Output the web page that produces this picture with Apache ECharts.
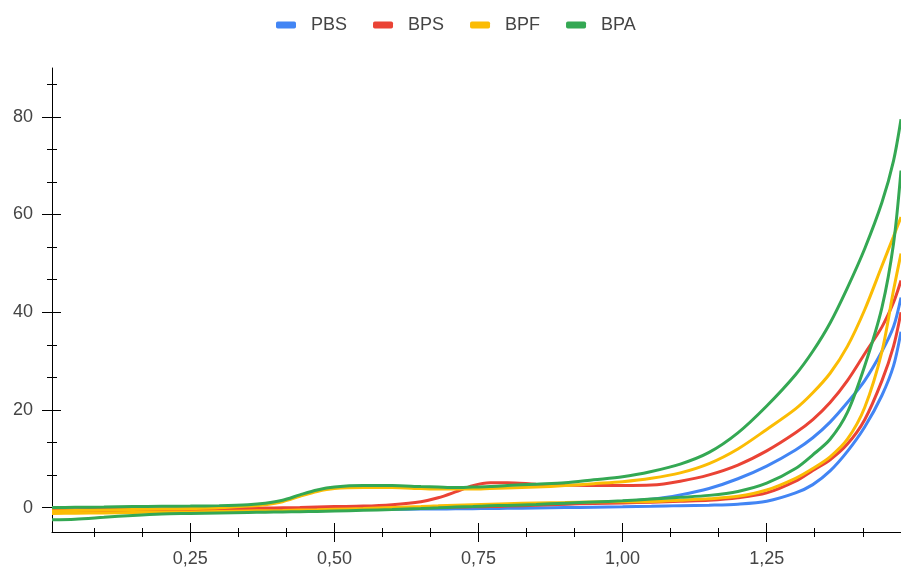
<!DOCTYPE html>
<html>
<head>
<meta charset="utf-8">
<script src="https://cdn.jsdelivr.net/npm/echarts@6/dist/echarts.min.js"></script>
<style>
html,body{margin:0;padding:0;background:#fff;}
#chart{width:901px;height:571px;}
</style>
</head>
<body>
<div id="chart"></div>
<script>
// Potential grid (x values)
const xValues = [0.01, 0.05, 0.1, 0.15, 0.2, 0.25, 0.3, 0.35, 0.38, 0.41, 0.44, 0.47, 0.5, 0.55, 0.6, 0.65, 0.68, 0.71, 0.74, 0.77, 0.8, 0.85, 0.9, 0.95, 1.0, 1.05, 1.1, 1.15, 1.2, 1.25, 1.3, 1.33, 1.36, 1.39, 1.42, 1.45, 1.47, 1.483];

// Series names
const seriesNames = ['PBS', 'BPS', 'BPF', 'BPA'];

// Upper (outer) branch and lower (inner) branch of each loop
const pbsUpper = [-0.6,-0.58,-0.55,-0.52,-0.5,-0.47,-0.44,-0.4,-0.38,-0.35,-0.33,-0.3,-0.27,-0.2,-0.1,0.0,0.05,0.12,0.2,0.28,0.38,0.55,0.75,1.0,1.3,1.7,2.6,3.9,5.9,8.5,11.8,14.3,17.5,21.5,26,32,37,43];
const pbsLower = [-0.9,-0.88,-0.85,-0.8,-0.75,-0.7,-0.65,-0.6,-0.57,-0.55,-0.52,-0.5,-0.45,-0.4,-0.35,-0.3,-0.28,-0.25,-0.22,-0.2,-0.15,-0.08,0.0,0.08,0.15,0.25,0.4,0.5,0.7,1.3,3.0,4.7,7.5,11.5,16.5,23,29,36];

const bpsUpper = [-0.45,-0.42,-0.4,-0.35,-0.3,-0.25,-0.2,-0.15,-0.1,-0.05,0.0,0.1,0.2,0.3,0.6,1.2,2.0,3.2,4.5,5.1,5.1,4.8,4.6,4.5,4.5,4.6,5.4,6.7,8.7,11.6,15.3,18.0,21.5,26,31.5,37,42,46.5];
const bpsLower = [-1.0,-0.95,-0.9,-0.85,-0.8,-0.75,-0.7,-0.6,-0.55,-0.5,-0.45,-0.4,-0.3,-0.2,-0.1,0.0,0.05,0.1,0.15,0.2,0.3,0.5,0.7,0.85,0.95,1.1,1.3,1.5,2.0,3.0,5.4,7.6,9.8,13,18,26,33,40];

const bpfUpper = [-0.7,-0.6,-0.5,-0.4,-0.3,-0.2,-0.05,0.3,0.6,1.2,2.3,3.3,3.9,4.1,4.1,3.9,3.8,3.8,3.8,3.9,4.0,4.2,4.5,4.9,5.3,6.0,7.1,9.0,12.0,16.0,20.2,23.5,27.5,33,40.5,49.5,55.5,59.5];
const bpfLower = [-1.2,-1.15,-1.1,-1.0,-0.95,-0.9,-0.8,-0.7,-0.65,-0.6,-0.5,-0.45,-0.35,-0.2,0.0,0.2,0.35,0.5,0.6,0.7,0.8,0.95,1.05,1.15,1.2,1.25,1.5,1.8,2.3,3.6,6.0,8.0,10.4,14,20.5,32,44.5,52];

const bpaUpper = [0.0,0.05,0.1,0.2,0.25,0.3,0.4,0.6,0.9,1.5,2.6,3.6,4.2,4.5,4.5,4.3,4.2,4.1,4.2,4.3,4.5,4.8,5.1,5.7,6.3,7.4,8.9,11.3,15.3,20.8,27.2,32,37.8,45,53,62.5,71,79.5];
const bpaLower = [-2.5,-2.4,-2.0,-1.6,-1.3,-1.2,-1.1,-1.0,-0.95,-0.9,-0.85,-0.8,-0.7,-0.55,-0.4,-0.2,-0.05,0.1,0.2,0.35,0.45,0.65,0.9,1.15,1.4,1.75,2.1,2.5,3.3,5.0,8.0,10.8,14,19.5,29,41,54,69];

// Tick values
const xMajorTicks = [0.25, 0.5, 0.75, 1.0, 1.25];
const xMinorTicks = [1/12, 2/12, 4/12, 5/12, 7/12, 8/12, 10/12, 11/12, 13/12, 14/12, 16/12, 17/12];
const yMajorTicks = [0, 20, 40, 60, 80];
const yMinorTicks = [20/3, 40/3, 80/3, 100/3, 140/3, 160/3, 200/3, 220/3, 260/3];

const colors = ['#4285F4', '#EA4335', '#FBBC04', '#34A853'];
const branches = [[pbsUpper, pbsLower], [bpsUpper, bpsLower], [bpfUpper, bpfLower], [bpaUpper, bpaLower]];

const X_MIN = 0.01, X_MAX = 1.483, Y_MIN = -5, Y_MAX = 90;
const axisColor = '#000';
const fontFamily = 'Liberation Sans, Arial, sans-serif';
const tickLine = { color: axisColor, width: 1 };

const hiddenX = g => ({ type: 'value', gridIndex: g, min: X_MIN, max: X_MAX, show: false });
const hiddenY = g => ({ type: 'value', gridIndex: g, min: Y_MIN, max: Y_MAX, show: false });
const tickX = (g, ticks, len) => ({
  type: 'value', gridIndex: g, min: X_MIN, max: X_MAX, position: 'bottom',
  axisLine: { show: false, onZero: false }, axisLabel: { show: false }, splitLine: { show: false },
  axisTick: { show: true, customValues: ticks, length: len, lineStyle: tickLine }
});
const tickY = (g, ticks, len) => ({
  type: 'value', gridIndex: g, min: Y_MIN, max: Y_MAX, position: 'left',
  axisLine: { show: false, onZero: false }, axisLabel: { show: false }, splitLine: { show: false },
  axisTick: { show: true, customValues: ticks, length: len, lineStyle: tickLine }
});

const series = [];
seriesNames.forEach((name, i) => {
  branches[i].forEach(ys => {
    series.push({
      name: name, type: 'line', xAxisIndex: 0, yAxisIndex: 0,
      data: xValues.map((x, k) => [x, ys[k]]),
      showSymbol: false, symbol: 'none',
      smooth: 0.3,
      lineStyle: { color: colors[i], width: 3 },
      itemStyle: { color: colors[i] },
      emphasis: { disabled: true }
    });
  });
});

const chart = echarts.init(document.getElementById('chart'), null, { renderer: 'canvas' });
chart.setOption({
  animation: false,
  backgroundColor: '#fff',
  legend: {
    data: seriesNames, top: 16, left: 276, padding: 0,
    icon: 'roundRect', itemWidth: 20, itemHeight: 7, itemGap: 26,
    textStyle: { fontSize: 18, color: '#444', fontFamily: fontFamily, padding: [0, 0, 0, 10] }
  },
  grid: [
    { left: 52, right: 0, top: 68, bottom: 39 },   // main plot
    { left: 52, right: 0, top: 68, bottom: 48 },   // x major ticks (crossing)
    { left: 52, right: 0, top: 68, bottom: 43 },   // x minor ticks (crossing)
    { left: 61, right: 0, top: 68, bottom: 39 },   // y major ticks (crossing)
    { left: 57, right: 0, top: 68, bottom: 39 }    // y minor ticks (crossing)
  ],
  xAxis: [
    {
      type: 'value', gridIndex: 0, min: X_MIN, max: X_MAX, position: 'bottom',
      axisLine: { show: true, onZero: false, lineStyle: { color: axisColor, width: 1 } },
      axisTick: { show: false }, splitLine: { show: false },
      axisLabel: {
        show: true, customValues: xMajorTicks, margin: 18, fontSize: 18, color: '#444', fontFamily: fontFamily,
        formatter: v => v.toFixed(2).replace('.', ',')
      }
    },
    tickX(1, xMajorTicks, 19),
    tickX(2, xMinorTicks, 9),
    hiddenX(3),
    hiddenX(4)
  ],
  yAxis: [
    {
      type: 'value', gridIndex: 0, min: Y_MIN, max: Y_MAX, position: 'left',
      axisLine: { show: true, onZero: false, lineStyle: { color: axisColor, width: 1 } },
      axisTick: { show: false }, splitLine: { show: false },
      axisLabel: { show: true, customValues: yMajorTicks, margin: 19, fontSize: 18, color: '#444', fontFamily: fontFamily }
    },
    hiddenY(1),
    hiddenY(2),
    tickY(3, yMajorTicks, 19),
    tickY(4, yMinorTicks, 10)
  ],
  series: series
});
</script>
</body>
</html>
